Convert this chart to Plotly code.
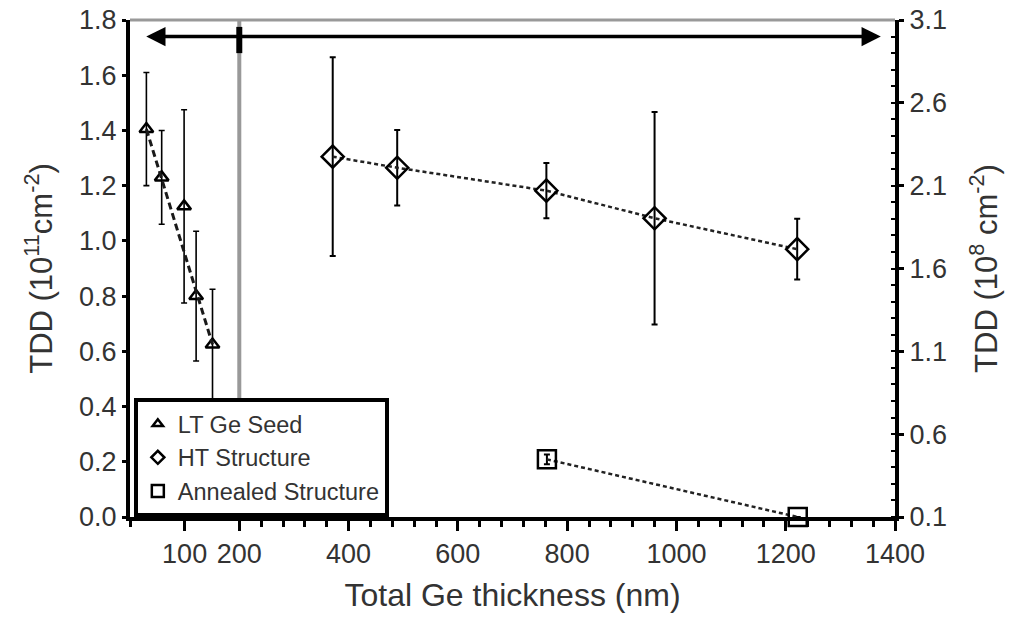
import plotly.graph_objects as go

# ---- data ----
lt_x = [30, 58, 99, 121, 151]
lt_y = [1.405, 1.23, 1.125, 0.80, 0.625]
lt_err = [0.205, 0.17, 0.35, 0.235, 0.20]

ht_x = [371, 489, 762, 960, 1221]
ht_y = [1.305, 1.265, 1.182, 1.082, 0.970]
ht_err = [0.36, 0.137, 0.10, 0.385, 0.11]

an_x = [763, 1222]
an_y = [0.448, 0.10]      # right axis (10^8 cm^-2)
an_err = [0.03, 0.0]

x_ticks = [100, 200, 400, 600, 800, 1000, 1200, 1400]
x_minor = [0] + [v for v in range(240, 1400, 40) if v % 200 != 0]
yl_ticks = [0.0, 0.2, 0.4, 0.6, 0.8, 1.0, 1.2, 1.4, 1.6, 1.8]
yr_ticks = [0.1, 0.6, 1.1, 1.6, 2.1, 2.6, 3.1]

FONT = "Arial, Liberation Sans, sans-serif"
TXT = "#333333"

fig = go.Figure()

# LT Ge seed
fig.add_trace(go.Scatter(
    x=lt_x, y=lt_y, mode="markers", showlegend=False,
    marker=dict(symbol="triangle-up-open", size=12, color="black", line=dict(width=2.5, color="black")),
    error_y=dict(type="data", array=lt_err, color="black", thickness=1.6, width=3),
    cliponaxis=False))
# dashed trend through LT seed points
fig.add_trace(go.Scatter(
    x=[lt_x[0], lt_x[-1]], y=[lt_y[0], lt_y[-1]], mode="lines", showlegend=False,
    line=dict(color="#1a1a1a", width=3, dash="7px,4px"), hoverinfo="skip"))

# HT structure
fig.add_trace(go.Scatter(
    x=ht_x, y=ht_y, mode="lines+markers", showlegend=False,
    line=dict(color="#222", width=2.5, dash="4px,3px"),
    marker=dict(symbol="diamond-open", size=17, color="black", line=dict(width=2.5, color="black")),
    error_y=dict(type="data", array=ht_err, color="black", thickness=2, width=3),
    cliponaxis=False))

# Annealed structure (right axis)
fig.add_trace(go.Scatter(
    x=an_x, y=an_y, yaxis="y2", mode="lines+markers", showlegend=False,
    line=dict(color="#222", width=2.5, dash="4px,3px"),
    marker=dict(symbol="square-open", size=18, color="black", line=dict(width=2.5, color="black")),
    error_y=dict(type="data", array=an_err, color="black", thickness=2, width=3),
    cliponaxis=False))

# legend entries (markers only)
for name, sym, sz in [("LT Ge Seed", "triangle-up-open", 9),
                      ("HT Structure", "diamond-open", 10),
                      ("Annealed Structure", "square-open", 12)]:
    fig.add_trace(go.Scatter(x=[None], y=[None], mode="markers", name=name,
                             marker=dict(symbol=sym, size=sz, color="black",
                                         line=dict(width=2.5, color="black"))))

# decorations
fig.add_shape(type="line", xref="x", yref="y", x0=200, x1=200, y0=0, y1=1.8,
              line=dict(color="#999999", width=4), layer="below")
fig.add_shape(type="line", xref="paper", yref="paper", x0=0, x1=1, y0=1, y1=1,
              line=dict(color="#999999", width=3))
fig.add_shape(type="line", xref="x", yref="y", x0=200, x1=200, y0=1.68, y1=1.775,
              line=dict(color="black", width=6))
fig.add_annotation(x=1374, y=1.74, ax=27, ay=1.74, axref="x", ayref="y", xref="x", yref="y",
                   text="", showarrow=True, arrowside="end+start",
                   arrowhead=2, startarrowhead=2, arrowsize=1.1, startarrowsize=1.1,
                   arrowwidth=3.5, arrowcolor="black")

fig.update_layout(
    width=1020, height=624,
    margin=dict(l=130, r=125, t=20, b=107, autoexpand=False),
    paper_bgcolor="white", plot_bgcolor="white",
    font=dict(family=FONT, color=TXT, size=27),
    showlegend=True,
    legend=dict(x=0.005, y=0.0, xanchor="left", yanchor="bottom",
                bgcolor="white", bordercolor="black", borderwidth=4,
                font=dict(size=23.5, color=TXT), tracegroupgap=0,
                entrywidth=228, entrywidthmode="pixels",
                itemsizing="trace"),
    xaxis=dict(range=[0, 1400], tickmode="array", tickvals=x_ticks,
               showgrid=False, zeroline=False, automargin=False,
               showline=True, linecolor="black", linewidth=4,
               ticks="outside", ticklen=10, tickwidth=3, tickcolor="black",
               minor=dict(tickmode="array", tickvals=x_minor, ticks="outside",
                          ticklen=6, tickwidth=3, tickcolor="black", showgrid=False),
               tickfont=dict(size=27, color=TXT),
               title=dict(text="Total Ge thickness (nm)", font=dict(size=32, color=TXT), standoff=16)),
    yaxis=dict(range=[0, 1.8], tickmode="array", tickvals=yl_ticks, tickformat=".1f",
               showgrid=False, zeroline=False, automargin=False,
               showline=True, linecolor="black", linewidth=4,
               ticks="outside", ticklen=4, tickwidth=3, tickcolor="black",
               tickfont=dict(size=27, color=TXT),
               title=dict(text="TDD (10<sup>11</sup>cm<sup>-2</sup>)", font=dict(size=31, color=TXT), standoff=18)),
    yaxis2=dict(range=[0.1, 3.1], overlaying="y", side="right",
                tickmode="array", tickvals=yr_ticks, tickformat=".1f",
                showgrid=False, zeroline=False, automargin=False,
                showline=True, linecolor="black", linewidth=4,
                ticks="outside", ticklen=5, tickwidth=3, tickcolor="black",
                minor=dict(dtick=0.1, tick0=0.1, ticks="inside", ticklen=4,
                           tickwidth=2, tickcolor="black", showgrid=False),
                tickfont=dict(size=27, color=TXT),
                title=dict(text="TDD (10<sup>8</sup> cm<sup>-2</sup>)", font=dict(size=31, color=TXT), standoff=30)),
)

fig.write_html("out.html")
